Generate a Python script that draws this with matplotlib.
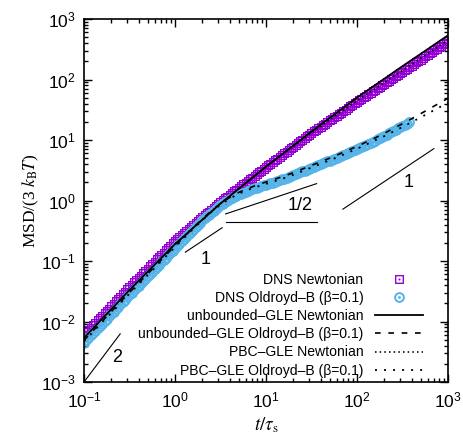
import matplotlib
matplotlib.use("Agg")
import matplotlib.pyplot as plt

plt.rcParams['font.family'] = ['Liberation Sans', 'DejaVu Sans']
plt.rcParams['mathtext.fontset'] = 'stix'

# DNS Newtonian
t_dns_newt = [0.1, 0.106, 0.112, 0.119, 0.126, 0.133, 0.141, 0.150, 0.158, 0.168,
              0.178, 0.188, 0.2, 0.211, 0.224, 0.237, 0.251, 0.266, 0.282, 0.299,
              0.316, 0.335, 0.355, 0.376, 0.398, 0.422, 0.447, 0.473, 0.501, 0.531,
              0.562, 0.596, 0.631, 0.668, 0.708, 0.750, 0.794, 0.841, 0.891, 0.944,
              1.0, 1.06, 1.12, 1.19, 1.26, 1.33, 1.41, 1.50, 1.58, 1.68,
              1.78, 1.88, 2.0, 2.11, 2.24, 2.37, 2.51, 2.66, 2.82, 2.99,
              3.16, 3.35, 3.55, 3.76, 3.98, 4.22, 4.47, 4.73, 5.01, 5.31,
              5.62, 5.96, 6.31, 6.68, 7.08, 7.50, 7.94, 8.41, 8.91, 9.44,
              10.0, 10.6, 11.2, 11.9, 12.6, 13.3, 14.1, 15.0, 15.8, 16.8,
              17.8, 18.8, 20.0, 21.1, 22.4, 23.7, 25.1, 26.6, 28.2, 29.9,
              31.6, 33.5, 35.5, 37.6, 39.8, 42.2, 44.7, 47.3, 50.1, 53.1,
              56.2, 59.6, 63.1, 66.8, 70.8, 75.0, 79.4, 84.1, 89.1, 94.4,
              100, 106, 112, 119, 126, 133, 141, 150, 158, 168,
              178, 188, 200, 211, 224, 237, 251, 266, 282, 299,
              316, 335, 355, 376, 398, 422, 447, 473, 501, 531,
              562, 596, 631, 668, 708, 750, 794, 841, 891, 944, 1000]
msd_dns_newt = [6.03e-3, 6.60e-3, 7.23e-3, 7.92e-3, 8.67e-3, 9.50e-3, 1.04e-2, 1.14e-2, 1.25e-2, 1.37e-2,
                1.50e-2, 1.64e-2, 1.79e-2, 1.97e-2, 2.15e-2, 2.36e-2, 2.58e-2, 2.83e-2, 3.10e-2, 3.39e-2,
                3.72e-2, 4.06e-2, 4.43e-2, 4.83e-2, 5.27e-2, 5.75e-2, 6.28e-2, 6.85e-2, 7.48e-2, 8.17e-2,
                8.91e-2, 9.73e-2, 0.106, 0.116, 0.126, 0.138, 0.151, 0.164, 0.179, 0.196,
                0.214, 0.230, 0.248, 0.268, 0.288, 0.311, 0.335, 0.361, 0.389, 0.419,
                0.452, 0.487, 0.525, 0.566, 0.610, 0.657, 0.708, 0.763, 0.822, 0.886,
                0.955, 1.02, 1.09, 1.16, 1.24, 1.33, 1.42, 1.51, 1.61, 1.72,
                1.84, 1.97, 2.10, 2.24, 2.39, 2.56, 2.73, 2.91, 3.11, 3.32,
                3.55, 3.79, 4.05, 4.32, 4.61, 4.93, 5.26, 5.62, 6.00, 6.41,
                6.84, 7.30, 7.80, 8.33, 8.89, 9.49, 10.1, 10.8, 11.6, 12.3,
                13.2, 14.0, 14.8, 15.7, 16.7, 17.7, 18.7, 19.9, 21.1, 22.4,
                23.7, 25.2, 26.7, 28.3, 30.0, 31.8, 33.7, 35.8, 37.9, 40.2,
                42.7, 45.2, 47.9, 50.7, 53.7, 56.9, 60.3, 63.8, 67.6, 71.6,
                75.9, 80.4, 85.1, 90.2, 95.5, 101, 107, 114, 120, 127,
                135, 143, 151, 160, 170, 180, 191, 202, 214, 226,
                240, 254, 269, 285, 302, 320, 339, 359, 380, 403, 427]

# DNS Oldroyd-B (beta=0.1)
t_dns_ob = [0.1, 0.106, 0.112, 0.119, 0.126, 0.133, 0.141, 0.150, 0.158, 0.168,
            0.178, 0.188, 0.2, 0.211, 0.224, 0.237, 0.251, 0.266, 0.282, 0.299,
            0.316, 0.335, 0.355, 0.376, 0.398, 0.422, 0.447, 0.473, 0.501, 0.531,
            0.562, 0.596, 0.631, 0.668, 0.708, 0.750, 0.794, 0.841, 0.891, 0.944,
            1.0, 1.06, 1.12, 1.19, 1.26, 1.33, 1.41, 1.50, 1.58, 1.68,
            1.78, 1.88, 2.0, 2.11, 2.24, 2.37, 2.51, 2.66, 2.82, 2.99,
            3.16, 3.35, 3.55, 3.76, 3.98, 4.22, 4.47, 4.73, 5.01, 5.31,
            5.62, 5.96, 6.31, 6.68, 7.08, 7.50, 7.94, 8.41, 8.91, 9.44,
            10.0, 10.6, 11.2, 11.9, 12.6, 13.3, 14.1, 15.0, 15.8, 16.8,
            17.8, 18.8, 20.0, 21.1, 22.4, 23.7, 25.1, 26.6, 28.2, 29.9,
            31.6, 33.5, 35.5, 37.6, 39.8, 42.2, 44.7, 47.3, 50.1, 53.1,
            56.2, 59.6, 63.1, 66.8, 70.8, 75.0, 79.4, 84.1, 89.1, 94.4,
            100, 106, 112, 119, 126, 133, 141, 150, 158, 168,
            178, 188, 200, 211, 224, 237, 251, 266, 282, 299,
            316, 335, 355, 376]
msd_dns_ob = [4.47e-3, 4.89e-3, 5.36e-3, 5.87e-3, 6.43e-3, 7.04e-3, 7.71e-3, 8.44e-3, 9.25e-3, 1.01e-2,
              1.11e-2, 1.21e-2, 1.33e-2, 1.46e-2, 1.60e-2, 1.75e-2, 1.91e-2, 2.10e-2, 2.30e-2, 2.51e-2,
              2.75e-2, 3.01e-2, 3.29e-2, 3.59e-2, 3.93e-2, 4.29e-2, 4.69e-2, 5.12e-2, 5.60e-2, 6.11e-2,
              6.68e-2, 7.30e-2, 7.98e-2, 8.72e-2, 9.53e-2, 0.104, 0.114, 0.124, 0.136, 0.148,
              0.162, 0.177, 0.194, 0.212, 0.231, 0.252, 0.275, 0.301, 0.328, 0.358,
              0.392, 0.428, 0.468, 0.505, 0.545, 0.586, 0.631, 0.677, 0.726, 0.777,
              0.832, 0.882, 0.935, 0.990, 1.05, 1.10, 1.15, 1.20, 1.26, 1.30,
              1.35, 1.40, 1.45, 1.49, 1.53, 1.58, 1.62, 1.67, 1.72, 1.77,
              1.82, 1.87, 1.93, 1.98, 2.04, 2.10, 2.16, 2.23, 2.29, 2.37,
              2.45, 2.54, 2.63, 2.72, 2.82, 2.92, 3.02, 3.13, 3.24, 3.35,
              3.47, 3.59, 3.72, 3.85, 3.98, 4.12, 4.27, 4.42, 4.57, 4.73,
              4.90, 5.07, 5.25, 5.43, 5.62, 5.82, 6.03, 6.28, 6.53, 6.80,
              7.08, 7.37, 7.67, 7.99, 8.32, 8.66, 9.02, 9.39, 9.77, 10.2,
              10.7, 11.2, 11.7, 12.3, 12.9, 13.5, 14.1, 14.8, 15.5, 16.2,
              17.0, 17.8, 18.6, 19.6]

# GLE curves
t_gle = [0.1, 0.126, 0.158, 0.2, 0.251, 0.316, 0.398, 0.501, 0.631, 0.794,
         1.0, 1.26, 1.58, 2.0, 2.51, 3.16, 3.98, 5.01, 6.31, 7.94,
         10.0, 12.6, 15.8, 20.0, 25.1, 31.6, 39.8, 50.1, 63.1, 79.4,
         100, 126, 158, 200, 251, 316, 398, 501, 631, 794, 1000]
msd_unb_newt = [5.37e-3, 7.73e-3, 1.11e-2, 1.60e-2, 2.30e-2, 3.31e-2, 4.70e-2, 6.67e-2, 9.46e-2, 0.134,
                0.191, 0.259, 0.353, 0.481, 0.655, 0.891, 1.18, 1.56, 2.07, 2.74,
                3.63, 4.74, 6.19, 8.09, 10.6, 13.8, 17.9, 23.1, 29.9, 38.7,
                50.1, 63.7, 80.9, 103, 131, 166, 210, 265, 336, 425, 537]
msd_unb_ob = [4.90e-3, 7.05e-3, 1.01e-2, 1.46e-2, 2.10e-2, 3.02e-2, 4.31e-2, 6.14e-2, 8.75e-2, 0.125,
              0.178, 0.251, 0.355, 0.495, 0.676, 0.891, 1.12, 1.36, 1.58, 1.80,
              2.02, 2.26, 2.54, 2.88, 3.31, 3.80, 4.37, 5.01, 5.82, 6.76,
              7.85, 9.23, 10.8, 12.9, 15.5, 18.6, 22.4, 27.2, 33.1, 40.3, 49.0]
msd_pbc_newt = [5.37e-3, 7.73e-3, 1.11e-2, 1.60e-2, 2.30e-2, 3.31e-2, 4.70e-2, 6.67e-2, 9.46e-2, 0.134,
                0.191, 0.259, 0.353, 0.481, 0.655, 0.891, 1.18, 1.56, 2.07, 2.74,
                3.63, 4.70, 6.08, 7.87, 10.2, 13.2, 16.8, 21.5, 27.4, 35.0,
                44.7, 56.2, 70.8, 89.1, 112, 141, 178, 224, 282, 355, 447]
msd_pbc_ob = [4.68e-3, 6.73e-3, 9.68e-3, 1.39e-2, 2.00e-2, 2.88e-2, 4.11e-2, 5.86e-2, 8.36e-2, 0.119,
              0.170, 0.240, 0.337, 0.473, 0.646, 0.851, 1.07, 1.29, 1.50, 1.69,
              1.88, 2.10, 2.34, 2.66, 3.05, 3.51, 4.03, 4.62, 5.31, 6.17,
              7.16, 8.41, 9.89, 11.6, 13.8, 16.4, 19.7, 23.7, 28.5, 34.3, 41.2]

# slope guides: (t range, msd range, label, label position)
guides = [
    ((0.1, 0.25), (1e-3, 6.25e-3), "2", (0.23, 2.5e-3)),
    ((1.3, 3.3), (0.14, 0.355), "1", (2.15, 0.105)),
    ((3.6, 36), (0.6, 1.9), "1/2", (24, 0.82)),
    ((3.6, 36), (0.44, 0.44), None, None),
    ((70, 700), (0.72, 7.2), "1", (370, 2.0)),
]

c_newt = '#9400d3'
c_ob = '#56b4e9'

fig = plt.figure(figsize=(4.63, 4.37), dpi=100)
ax = fig.add_axes([84 / 463, 1 - 382 / 437, 364 / 463, 363 / 437])

ax.plot(t_dns_newt, msd_dns_newt, ls='none', marker=r'$\boxdot$', ms=6, color=c_newt,
        mew=0.5, label='DNS Newtonian')
ax.plot(t_dns_ob, msd_dns_ob, ls='none', marker=r'$\odot$', ms=7, color=c_ob,
        mew=0.7, label='DNS Oldroyd–B (β=0.1)')
ax.plot(t_gle, msd_unb_newt, color='k', lw=1.3, label='unbounded–GLE Newtonian')
ax.plot(t_gle, msd_unb_ob, color='k', lw=1.2, ls=(0, (3.4, 4.6)),
        label='unbounded–GLE Oldroyd–B (β=0.1)')
ax.plot(t_gle, msd_pbc_newt, color='k', lw=1.2, ls=(0, (0.9, 1.9)),
        label='PBC–GLE Newtonian')
ax.plot(t_gle, msd_pbc_ob, color='k', lw=1.3, ls=(0, (1.1, 3.9)),
        label='PBC–GLE Oldroyd–B (β=0.1)')

for (tx, ty, lab, lpos) in guides:
    ax.plot(tx, ty, color='k', lw=0.8)
    if lab:
        ax.text(lpos[0], lpos[1], lab, fontsize=13, ha='center', va='center')

ax.set_xscale('log')
ax.set_yscale('log')
ax.set_xlim(0.1, 1000)
ax.set_ylim(1e-3, 1e3)
ax.tick_params(which='both', direction='in', top=True, right=True, labelsize=12.5, width=1)
ax.tick_params(which='major', length=6, pad=6)
ax.tick_params(which='minor', length=3)
for s in ax.spines.values():
    s.set_linewidth(1.2)

ax.set_xlabel(r'$t/\tau_\mathrm{s}$', fontsize=13.5, labelpad=4)
ax.set_ylabel(r'MSD/(3 $k_\mathrm{B}T$)', fontsize=12.5, family='Liberation Serif', labelpad=0)

leg = ax.legend(loc='lower right', bbox_to_anchor=(339 / 364, 0.012), frameon=False,
                markerfirst=False, fontsize=10.1, handlelength=3.4, handletextpad=0.85,
                labelspacing=0.3, borderaxespad=0, borderpad=0)

fig.savefig('out.png', dpi=100)
